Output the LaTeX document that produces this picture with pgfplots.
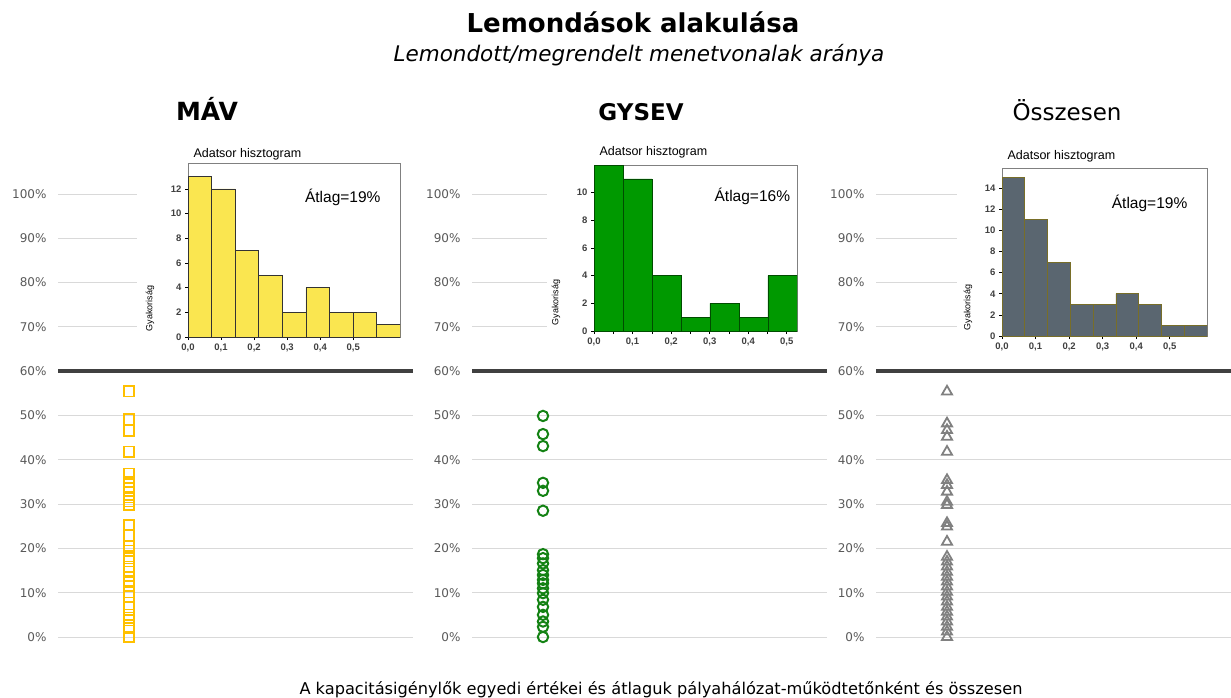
\documentclass[border=0pt]{standalone}
\usepackage{pgfplots}
\pgfplotsset{compat=1.18}
\usepackage{fontspec}
\setmainfont{DejaVu Sans}
\newfontfamily\histfont{Liberation Sans}
\definecolor{mavc}{RGB}{255,192,0}
\definecolor{gysc}{RGB}{20,130,20}
\definecolor{ossc}{RGB}{128,128,128}
\definecolor{tickc}{RGB}{89,89,89}
\definecolor{gridc}{RGB}{217,217,217}
\definecolor{thickc}{RGB}{64,64,64}
\definecolor{hyel}{RGB}{250,230,80}
\definecolor{hgreen}{RGB}{0,153,0}
\definecolor{hgray}{RGB}{90,102,112}
\definecolor{holive}{RGB}{120,110,40}
\pgfplotsset{
  scat/.style={scale only axis, anchor=south west, width=355pt, height=443pt,
    xmin=0, xmax=5, ymin=0, ymax=100, clip=false,
    axis line style={draw=none}, major tick length=0pt, xtick=\empty,
    ytick={0,10,20,30,40,50,70,80,90,100},
    yticklabels={0\%,10\%,20\%,30\%,40\%,50\%,70\%,80\%,90\%,100\%},
    extra y ticks={60}, extra y tick labels={60\%},
    extra y tick style={ymajorgrids=true, major grid style={line width=4pt, color=thickc}},
    ymajorgrids, major grid style={color=gridc, line width=0.9pt},
    yticklabel style={font=\fontsize{12}{14}\selectfont, text=tickc, xshift=-8pt}},
  hist/.style={scale only axis, anchor=south west, axis background/.style={fill=white},
    axis line style={color=gray, line width=0.6pt}, tick align=outside,
    xtick pos=bottom, ytick pos=left, major tick length=3pt, minor tick length=3pt, ymin=0, xmin=0,
    tick style={black, line width=0.6pt},
    /pgf/number format/assume math mode=true,
    ticklabel style={font=\histfont\bfseries\fontsize{9.5}{11}\selectfont, text=black!75},
    xtick={0,0.1,0.2,0.3,0.4,0.5},
    xticklabels={0{,}0,0{,}1,0{,}2,0{,}3,0{,}4,0{,}5}}
}
\tikzset{
  htitle/.style={anchor=base west, font=\histfont\fontsize{12.5}{14}\selectfont},
  hylab/.style={rotate=90, anchor=west, font=\histfont\fontsize{9}{10}\selectfont},
  hmean/.style={font=\histfont\fontsize{15.5}{17}\selectfont}
}
\begin{document}
\begin{tikzpicture}[x=1pt,y=1pt]
\path[use as bounding box] (0,0) rectangle (1231,-698);
% titles
\node[anchor=base, font=\bfseries\fontsize{26}{30}\selectfont] at (633,-33) {Lemondások alakulása};
\node[anchor=base, font=\itshape\fontsize{21.5}{25}\selectfont] at (639,-62) {Lemondott/megrendelt menetvonalak aránya};
\node[anchor=base, font=\bfseries\fontsize{25}{28}\selectfont] at (207,-121) {MÁV};
\node[anchor=base, font=\bfseries\fontsize{23}{26}\selectfont] at (641,-121) {GYSEV};
\node[anchor=base, font=\fontsize{23}{26}\selectfont] at (1067,-121) {Összesen};
\node[anchor=base, font=\fontsize{16.2}{19}\selectfont] at (661,-694) {A kapacitásigénylők egyedi értékei és átlaguk pályahálózat-működtetőnként és összesen};
% scatter panels
\begin{axis}[scat, at={(58pt,-637pt)}]
\addplot[only marks, mark=square, mark size=5.2pt, mavc, line width=1.6pt] coordinates {
(1,55.5)(1,49.1)(1,46.6)(1,41.8)(1,36.9)(1,35)(1,33.6)(1,31.5)(1,30.6)(1,29.8)
(1,25.3)(1,22.9)(1,20.6)(1,19.5)(1,17.8)(1,15.9)(1,14.7)(1,12.7)(1,11.5)(1,10.1)
(1,9.1)(1,6.7)(1,5.0)(1,3.8)(1,2.0)(1,0)};
\end{axis}
\begin{axis}[scat, at={(472pt,-637pt)}]
\addplot[only marks, mark=o, mark size=5.2pt, gysc, line width=2pt] coordinates {
(1,49.9)(1,45.8)(1,43.1)(1,34.8)(1,33.0)(1,28.5)(1,18.7)(1,17.8)(1,16.6)(1,15.1)
(1,14.0)(1,12.9)(1,12.1)(1,11.0)(1,9.9)(1,8.4)(1,6.8)(1,5.0)(1,3.5)(1,2.3)(1,0)};
\end{axis}
\begin{axis}[scat, at={(876pt,-637pt)}]
\addplot[only marks, mark=triangle, mark size=5.8pt, ossc, line width=1.8pt] coordinates {
(1,55.4)(1,48.2)(1,46.7)(1,45.2)(1,41.8)(1,35.4)(1,34.3)(1,32.8)(1,30.5)(1,29.8)
(1,25.7)(1,24.9)(1,21.5)(1,18.1)(1,17.0)(1,15.9)(1,14.7)(1,13.6)(1,12.5)(1,11.4)
(1,10.2)(1,9.1)(1,8.0)(1,6.8)(1,5.7)(1,4.6)(1,3.5)(1,2.3)(1,1.2)(1,0)};
\end{axis}
% histogram backgrounds
\fill[white] (137,-138) rectangle (416,-346);
\fill[white] (547,-138) rectangle (830,-346);
\fill[white] (957,-138) rectangle (1231,-346);
% histogram 1
\begin{axis}[hist, name=h1, at={(188pt,-337pt)}, width=212pt, height=174pt,
  xmax=0.6415, ymax=14.1, ytick={0,2,4,6,8,10,12}]
\addplot[ybar interval, fill=hyel, draw=black!80, line width=0.6pt] coordinates {
(0,13)(0.0713,12)(0.1426,7)(0.2139,5)(0.2852,2)(0.3565,4)(0.4278,2)(0.4991,2)(0.5704,1)(0.6415,1)};
\node[hmean] at (axis description cs:0.73,0.80) {Átlag=19\%};
\end{axis}
\node[htitle] at ([shift={(2pt,6pt)}]h1.north west) {Adatsor hisztogram};
\node[hylab] at ([shift={(-38pt,2pt)}]h1.south west) {Gyakoriság};
% histogram 2
\begin{axis}[hist, name=h2, at={(594pt,-331pt)}, width=203pt, height=166pt,
  xmax=0.5265, ymax=12.0, ytick={0,2,4,6,8,10},
  minor xtick={0.05,0.15,0.25,0.35,0.45}]
\addplot[ybar interval, fill=hgreen, draw=black!70!green, line width=0.6pt] coordinates {
(0,12)(0.0752,11)(0.1504,4)(0.2256,1)(0.3008,2)(0.3760,1)(0.4512,4)(0.5265,4)};
\node[hmean] at (axis description cs:0.78,0.81) {Átlag=16\%};
\end{axis}
\node[htitle] at ([shift={(2pt,9pt)}]h2.north west) {Adatsor hisztogram};
\node[hylab] at ([shift={(-38pt,2pt)}]h2.south west) {Gyakoriság};
% histogram 3
\begin{axis}[hist, name=h3, at={(1002pt,-336pt)}, width=205pt, height=168pt,
  xmax=0.611, ymax=15.9, ytick={0,2,4,6,8,10,12,14}]
\addplot[ybar interval, fill=hgray, draw=holive, line width=0.6pt] coordinates {
(0,15)(0.0679,11)(0.1358,7)(0.2037,3)(0.2716,3)(0.3395,4)(0.4074,3)(0.4753,1)(0.5432,1)(0.611,1)};
\node[hmean] at (axis description cs:0.72,0.79) {Átlag=19\%};
\end{axis}
\node[htitle] at ([shift={(2pt,9pt)}]h3.north west) {Adatsor hisztogram};
\node[hylab] at ([shift={(-34pt,2pt)}]h3.south west) {Gyakoriság};
\end{tikzpicture}
\end{document}
